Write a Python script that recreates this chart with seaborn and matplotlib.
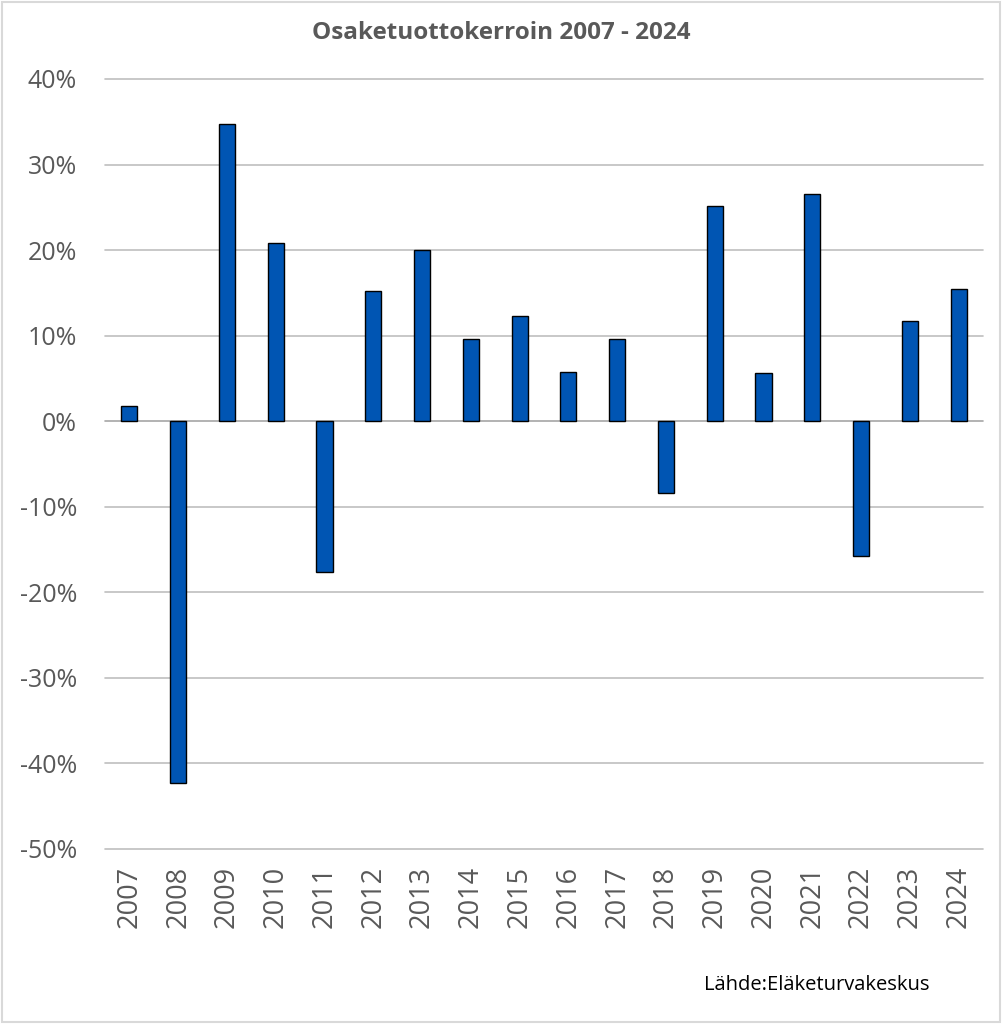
import numpy as np
import pandas as pd
import matplotlib
matplotlib.use("Agg")
import matplotlib.pyplot as plt
import seaborn as sns
from matplotlib.patches import Rectangle

# Data
years = [str(y) for y in range(2007, 2025)]
returns = [1.8, -42.3, 34.7, 20.8, -17.6, 15.2, 20.0, 9.6, 12.3,
           5.7, 9.6, -8.4, 25.2, 5.6, 26.6, -15.7, 11.7, 15.4]

df = pd.DataFrame({"Vuosi": years, "Tuotto": returns})

sns.set_style("white")
plt.rcParams["font.family"] = ["Open Sans", "DejaVu Sans"]

fig = plt.figure(figsize=(10.02, 10.24), dpi=100)
ax = fig.add_axes([0.1048, 0.1709, 0.8762, 0.752])

sns.barplot(data=df, x="Vuosi", y="Tuotto", color="#0055B3", saturation=1,
            width=0.33, edgecolor="black", linewidth=1, ax=ax, zorder=3)

ax.set_ylim(-50, 40)
ax.set_xlim(-0.5, len(years) - 0.5)
ax.set_yticks(np.arange(-50, 41, 10))
ax.set_yticklabels([f"{v}%" for v in range(-50, 41, 10)])
ax.yaxis.grid(False)
for v in range(-50, 41, 10):
    ax.axhline(v, color="#BFBFBF" if v != 0 else "#A6A6A6", linewidth=1.2,
               zorder=0 if v != 0 else 2, clip_on=False)
for s in ax.spines.values():
    s.set_visible(False)
ax.tick_params(axis="y", labelsize=18, labelcolor="#595959", length=0, pad=20)
ax.tick_params(axis="x", labelsize=19.5, labelcolor="#595959", length=0, pad=12,
               rotation=90)
ax.set_xlabel("")
ax.set_ylabel("")

fig.text(0.5, 0.968, "Osaketuottokerroin 2007 - 2024", ha="center", va="center",
         fontsize=17.5, fontweight="bold", color="#595959")
fig.text(0.928, 0.038, "Lähde:Eläketurvakeskus", ha="right", va="center",
         fontsize=14.5, color="black")

fig.patches.append(Rectangle((0.002, 0.002), 0.996, 0.996, transform=fig.transFigure,
                             fill=False, edgecolor="#D9D9D9", linewidth=1.5))

fig.savefig("out.png", dpi=100)
